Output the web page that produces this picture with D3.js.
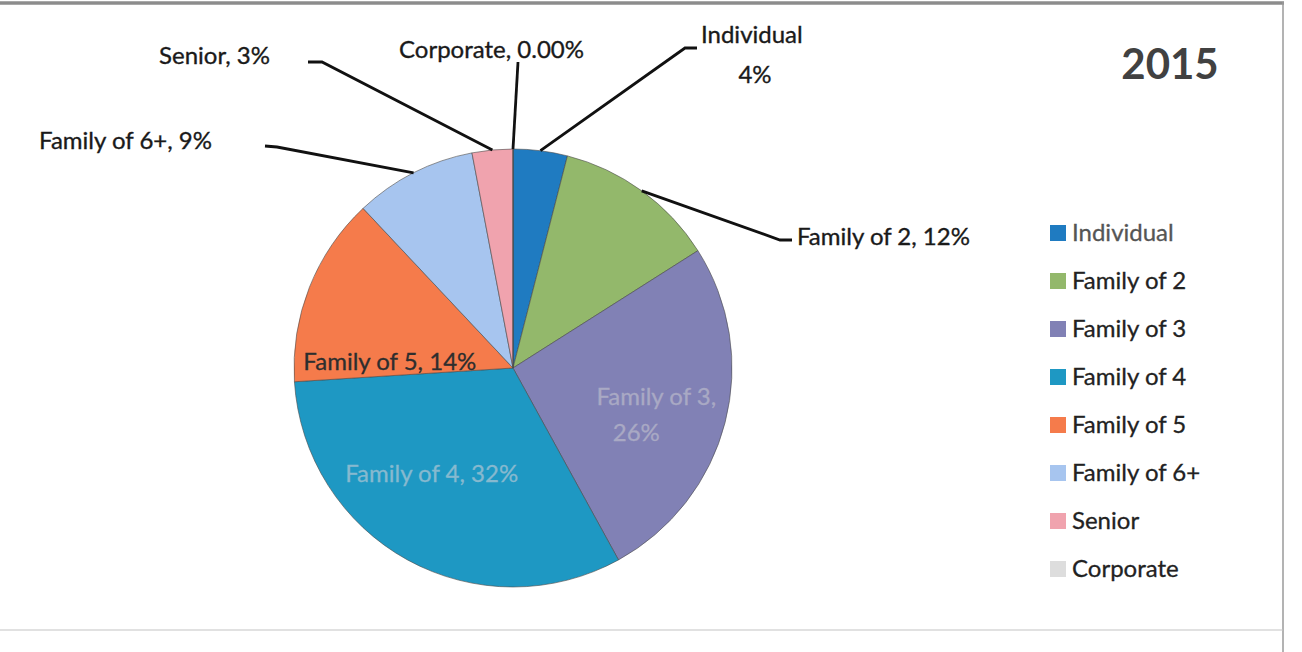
<!DOCTYPE html>
<html>
<head>
<meta charset="utf-8">
<script src="https://cdn.jsdelivr.net/npm/d3@7"></script>
<style>
  html, body { margin: 0; padding: 0; background: #fff; }
  svg { display: block; }
  text { font-family: Lato, "Open Sans", sans-serif; }
</style>
</head>
<body>
<div id="chart"></div>
<script>
// Membership mix for 2015, share of total (%)
const categories = ["Individual", "Family of 2", "Family of 3", "Family of 4",
                    "Family of 5", "Family of 6+", "Senior", "Corporate"];
const shares = [4, 12, 26, 32, 14, 9, 3, 0];
const shareLabels = ["4%", "12%", "26%", "32%", "14%", "9%", "3%", "0.00%"];
const colors = ["#1F7BC1", "#93B86B", "#8181B5", "#1E98C3",
                "#F57B4B", "#A7C5EF", "#F0A3AE", "#DDDDDD"];
const title = "2015";

const W = 1302, H = 652;
const cx = 513, cy = 368, R = 219;
const FS = 24;

const svg = d3.select("#chart").append("svg")
  .attr("width", W).attr("height", H);

// frame around the chart area
const frame = svg.append("g").attr("fill", "none");
frame.append("line").attr("x1", 0).attr("x2", 1284).attr("y1", 3).attr("y2", 3)
  .attr("stroke", "#8c8c8c").attr("stroke-width", 3.5);
frame.append("line").attr("x1", 1283).attr("x2", 1283).attr("y1", 2).attr("y2", H)
  .attr("stroke", "#9a9a9a").attr("stroke-width", 1.5);
frame.append("line").attr("x1", 0).attr("x2", 1283).attr("y1", 630).attr("y2", 630)
  .attr("stroke", "#c4c4c4").attr("stroke-width", 1.2);

const data = categories.map((c, i) => ({ name: c, value: shares[i], label: shareLabels[i], color: colors[i] }));

const pie = d3.pie().value(d => d.value).sort(null);
const arcs = pie(data);
const arc = d3.arc().innerRadius(0).outerRadius(R);
const edge = d3.arc().innerRadius(R).outerRadius(R);
const inner = d3.arc().innerRadius(R * 0.6).outerRadius(R * 0.6);

const g = svg.append("g").attr("transform", `translate(${cx},${cy})`);

g.selectAll("path.slice").data(arcs).join("path")
  .attr("class", "slice")
  .attr("d", arc)
  .attr("fill", d => d.data.color)
  .attr("stroke", "#4a4a4a")
  .attr("stroke-width", 0.8)
  .attr("stroke-opacity", 0.75);

// labels drawn inside the larger slices
const insideLayout = {
  "Family of 3": { lines: d => ["Family of 3,", d.data.label], dx: 16, dy: 14, fill: "#a9a9c4" },
  "Family of 4": { lines: d => ["Family of 4, " + d.data.label], dx: -18, dy: -10, fill: "#86b9cf" },
  "Family of 5": { lines: d => ["Family of 5, " + d.data.label], dx: -1, dy: 42, fill: "#2e2e2e" }
};

arcs.filter(d => insideLayout[d.data.name]).forEach(d => {
  const L = insideLayout[d.data.name];
  const [x, y] = inner.centroid(d);
  const lines = L.lines(d);
  const t = g.append("text")
    .attr("text-anchor", "middle")
    .attr("font-size", FS)
    .attr("fill", L.fill)
    .attr("stroke", L.fill).attr("stroke-width", 0.3);
  lines.forEach((s, k) => {
    t.append("tspan")
      .attr("x", x + L.dx - (lines.length > 1 && k === 1 ? 20 : 0))
      .attr("y", y + L.dy + (k - (lines.length - 1) / 2) * 36)
      .attr("dy", "0.35em")
      .text(s);
  });
});

// callout labels with leader lines for the small slices
const outsideLayout = {
  "Individual":  { text: [{ s: "Individual", x: 701, y: 35, anchor: "start" }, { s: "4%", x: 755, y: 75, anchor: "middle" }],
                   elbow: [[697, 48], [685, 48]] },
  "Family of 2": { text: [{ s: "Family of 2, 12%", x: 797, y: 237, anchor: "start" }],
                   elbow: [[792, 240], [780, 240]] },
  "Family of 6+":{ text: [{ s: "Family of 6+, 9%", x: 212, y: 141, anchor: "end" }],
                   elbow: [[265, 146], [277, 147]] },
  "Senior":      { text: [{ s: "Senior, 3%", x: 270, y: 56, anchor: "end" }],
                   elbow: [[308, 62], [322, 62]] },
  "Corporate":   { text: [{ s: "Corporate, 0.00%", x: 584, y: 50, anchor: "end" }],
                   elbow: [[518, 62]] }
};

const callouts = svg.append("g");
arcs.filter(d => outsideLayout[d.data.name]).forEach(d => {
  const L = outsideLayout[d.data.name];
  const [ex, ey] = edge.centroid(d);
  const pts = L.elbow.concat([[cx + ex, cy + ey]]);
  callouts.append("path")
    .attr("d", d3.line()(pts))
    .attr("fill", "none")
    .attr("stroke", "#111")
    .attr("stroke-width", 2.8);
  L.text.forEach(t => {
    callouts.append("text")
      .attr("x", t.x).attr("y", t.y).attr("dy", "0.35em")
      .attr("text-anchor", t.anchor)
      .attr("font-size", FS)
      .attr("fill", "#1a1a1a")
      .attr("stroke", "#1a1a1a").attr("stroke-width", 0.35)
      .text(t.s);
  });
});

// legend
const legend = svg.append("g").attr("transform", "translate(1050,233)");
const rows = legend.selectAll("g").data(data).join("g")
  .attr("transform", (d, i) => `translate(0,${i * 48})`);
rows.append("rect")
  .attr("x", 0).attr("y", -8).attr("width", 16).attr("height", 16)
  .attr("fill", d => d.color);
rows.append("text")
  .attr("x", 22).attr("y", 0).attr("dy", "0.35em")
  .attr("font-size", FS)
  .attr("fill", (d, i) => i === 0 ? "#555" : "#222")
  .attr("stroke", (d, i) => i === 0 ? "#555" : "#222").attr("stroke-width", 0.3)
  .text(d => d.name);

// year title
svg.append("text")
  .attr("x", 1170).attr("y", 64).attr("dy", "0.36em")
  .attr("text-anchor", "middle")
  .attr("font-size", 42).attr("font-weight", "bold")
  .attr("fill", "#414141")
  .text(title);
</script>
</body>
</html>
